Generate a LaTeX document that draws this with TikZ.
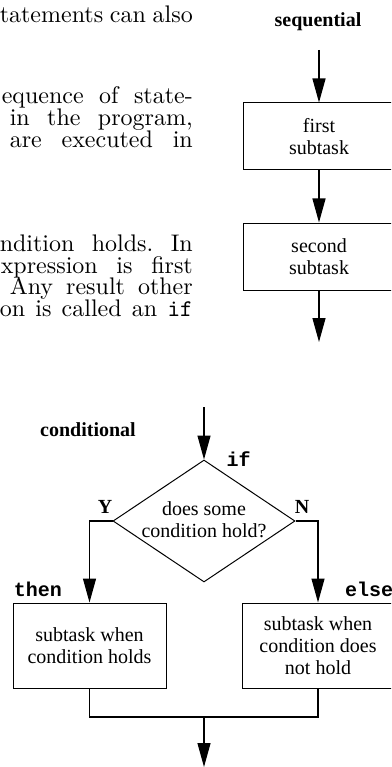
\documentclass[tikz,border=0pt]{standalone}
\usepackage{fontspec}
\newfontfamily\diafont{Liberation Serif}
\newfontfamily\diatt{Liberation Mono}
\newfontfamily\pagefont[Extension=.otf]{lmroman10-regular}
\newfontfamily\pagett[Extension=.otf]{lmmono10-regular}
\usetikzlibrary{shapes.geometric,arrows.meta,positioning}
\newcommand\pageline[2]{\makebox[#1pt][s]{#2}}
\tikzset{
  box/.style={draw,line width=1pt,minimum width=152pt,minimum height=67pt,inner sep=2pt,align=center,font=\diafont\fontsize{20}{22}\selectfont},
  flow/.style={line width=1.2pt,-{Triangle[length=24pt,width=13pt]}},
  wire/.style={line width=1.2pt},
  head/.style={inner sep=0pt,font=\diafont\bfseries\fontsize{20}{22}\selectfont},
  kw/.style={inner sep=0pt,font=\diatt\bfseries\fontsize{20}{22}\selectfont},
  page/.style={anchor=base east,inner sep=0pt,font=\pagefont\fontsize{24}{21.7}\selectfont}
}
\begin{document}
\begin{tikzpicture}[x=1pt,y=-1pt]
\useasboundingbox (0,0) rectangle (391,767);
\clip (0,0) rectangle (391,767);
% text of the page
\node[page] (p1) at (193,23) {\pageline{193}{tatements can also}};
\node[page] (p2) at (193,104) {\pageline{191}{equence of state-}};
\node[page] (p3) at (193,126) {\pageline{183}{in the program,}};
\node[page] (p4) at (193,147.5) {\pageline{183}{are executed in}};
\node[page] (p5) at (193,251) {\pageline{193}{ndition holds.\ In}};
\node[page] (p6) at (193,273) {\pageline{192}{xpression is first}};
\node[page] (p7) at (193,294.5) {\pageline{183}{Any result other}};
\node[page] (p8) at (193,316) {\pageline{193}{on is called an {\pagett if}}};
% sequential
\node[head,anchor=base] (seqlbl) at (318,26.7) {sequential};
\coordinate (s0) at (319,50);
\node[box] (first) at (319,136.5) {first\\subtask};
\node[box] (second) at (319,256.5) {second\\subtask};
\coordinate (s3) at (319,342);
\draw[flow] (s0) -- (first);
\draw[flow] (first) -- (second);
\draw[flow] (second) -- (s3);
% conditional
\node[head,anchor=base] (condlbl) at (88,436) {conditional};
\coordinate (c0) at (204,407);
\node[draw,diamond,line width=1pt,minimum width=182pt,minimum height=122pt,inner sep=0pt] (test) at (204,521) {};
\node[align=center,inner sep=0pt,font=\diafont\fontsize{20}{22}\selectfont] (testtxt) at (204,519.5) {does some\\condition hold?};
\node[kw,anchor=base] (iflbl) at (238.5,466.5) {if};
\node[head,anchor=base] (ylbl) at (105,513) {Y};
\node[head,anchor=base] (nlbl) at (302,513) {N};
\node[box,minimum width=153pt,minimum height=85pt] (yes) at (89.5,645.5) {subtask when\\condition holds};
\node[box,minimum height=85pt] (no) at (318,645.5) {subtask when\\condition does\\not hold};
\node[kw,anchor=base] (thenlbl) at (38,596.7) {then};
\node[kw,anchor=base west] (elselbl) at (345,596.7) {else};
\draw[flow] (c0) -- (test.north);
\draw[flow] (test.west) -| (yes.north);
\draw[flow] (test.east) -| (no.north);
\coordinate (join) at (204,717);
\coordinate (c9) at (204,767);
\draw[wire] (yes.south) |- (join) -| (no.south);
\draw[flow] (join) -- (c9);
\end{tikzpicture}
\end{document}
